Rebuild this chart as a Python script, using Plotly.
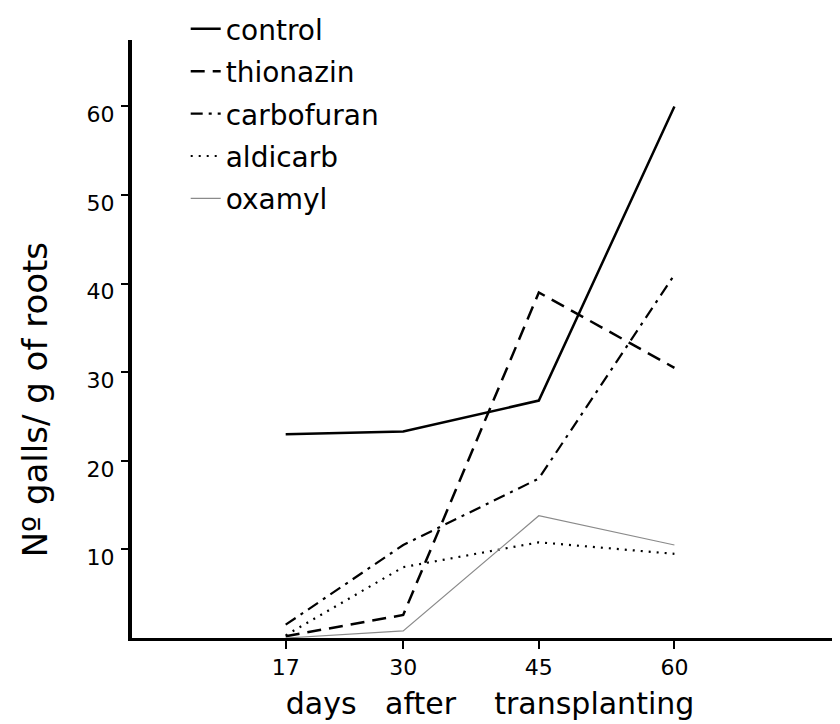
import plotly.graph_objects as go

days = [17, 30, 45, 60]
control = [23.0, 23.3, 26.8, 60.0]
thionazin = [0.2, 2.6, 39.0, 30.5]
carbofuran = [1.5, 10.5, 18.0, 41.0]
aldicarb = [0.3, 8.0, 10.8, 9.5]
oxamyl = [0.0, 0.8, 13.8, 10.5]

series_names = ["control", "thionazin", "carbofuran", "aldicarb", "oxamyl"]
series_values = [control, thionazin, carbofuran, aldicarb, oxamyl]
styles = [
    dict(color="black", width=2.5, dash="solid"),
    dict(color="black", width=2.5, dash="14px,8px"),
    dict(color="black", width=2.2, dash="12px,6px,3px,6px"),
    dict(color="black", width=2.2, dash="2px,6px"),
    dict(color="#8a8a8a", width=1.2, dash="solid"),
]

y_ticks = [10, 20, 30, 40, 50, 60]

FONT = "DejaVu Sans"

fig = go.Figure()
for name, vals, st in zip(series_names, series_values, styles):
    fig.add_trace(go.Scatter(
        x=days, y=vals, mode="lines", name=name, line=st,
        legendgroup=name, hoverinfo="skip",
    ))

fig.update_layout(
    width=840, height=724,
    margin=dict(l=124, r=0, t=32, b=94, autoexpand=False),
    paper_bgcolor="white", plot_bgcolor="white",
    font=dict(family=FONT, color="black", size=22),
    showlegend=True,
    legend=dict(
        x=0.075, y=1.06, xanchor="left", yanchor="top",
        font=dict(size=28, family=FONT),
        bgcolor="rgba(0,0,0,0)",
        tracegroupgap=3,
        itemwidth=30,
    ),
    xaxis=dict(
        range=[0, 79.2],
        tickmode="array", tickvals=days, ticktext=[str(d) for d in days],
        showgrid=False, zeroline=False,
        showline=True, linecolor="black", linewidth=3,
        ticks="outside", ticklen=8, tickwidth=1.5, tickcolor="black",
        tickfont=dict(size=22),
        title=dict(text="days&nbsp;&nbsp;&nbsp;after&nbsp;&nbsp;&nbsp;&nbsp;transplanting",
                   font=dict(size=30), standoff=14),
    ),
    yaxis=dict(
        range=[0, 67.5],
        tickmode="array", tickvals=y_ticks, ticktext=[str(v) for v in y_ticks],
        showgrid=False, zeroline=False,
        showline=True, linecolor="black", linewidth=4,
        ticks="outside", ticklen=7, tickwidth=1.5, tickcolor="black",
        tickfont=dict(size=22),
        ticklabelshift=8, ticklabelstandoff=2,
    ),
    annotations=[dict(
        text="Nº galls/ g of roots",
        textangle=-90, xref="paper", yref="paper",
        x=-0.135, y=0.398, xanchor="center", yanchor="middle",
        showarrow=False, font=dict(size=34, family=FONT),
    )],
)

fig.write_html("out.html")
